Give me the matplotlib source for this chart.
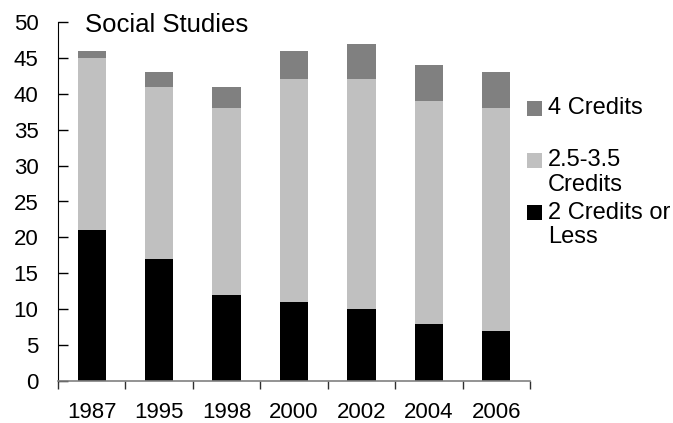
import numpy as np
import matplotlib
matplotlib.use("Agg")
import matplotlib.pyplot as plt
from matplotlib.patches import Rectangle

plt.rcParams['font.family'] = ['Liberation Sans', 'DejaVu Sans']

# Dati
anni = ['1987', '1995', '1998', '2000', '2002', '2004', '2006']
due_o_meno = [21, 17, 12, 11, 10, 8, 7]
da_25_a_35 = [24, 24, 26, 31, 32, 31, 31]
quattro = [1, 2, 3, 4, 5, 5, 5]

colori = {'quattro': '#808080', 'medio': '#C0C0C0', 'due': '#000000'}

x = np.arange(len(anni))
base2 = np.array(due_o_meno) + np.array(da_25_a_35)

W, H = 673, 423
fig = plt.figure(figsize=(W / 100, H / 100), dpi=100)
ax = fig.add_axes([58 / W, 1 - 381 / H, (530 - 58) / W, (381 - 22) / H])

ax.bar(x, due_o_meno, width=0.42, color=colori['due'])
ax.bar(x, da_25_a_35, width=0.42, bottom=due_o_meno, color=colori['medio'])
ax.bar(x, quattro, width=0.42, bottom=base2, color=colori['quattro'])

ax.set_xlim(-0.5, len(anni) - 0.5)
ax.set_ylim(0, 50)
ax.set_yticks(range(0, 51, 5))
ax.tick_params(axis='y', direction='in', length=7, width=1, labelsize=16, pad=14)

# etichette al centro, tacche tra le categorie
ax.set_xticks(x)
ax.set_xticklabels(anni)
ax.tick_params(axis='x', which='major', length=0, labelsize=16, pad=15)
ax.set_xticks(np.arange(-0.5, len(anni), 1), minor=True)
ax.tick_params(axis='x', which='minor', direction='out', length=6, width=1, color='#303030')

ax.spines['top'].set_visible(False)
ax.spines['right'].set_visible(False)
ax.spines['left'].set_color('black')
ax.spines['bottom'].set_color('#808080')
ax.spines['bottom'].set_linewidth(1.2)

ax.text(0.057, 0.991, 'Social Studies', transform=ax.transAxes, fontsize=18.5,
        va='center', ha='left')

# Legenda (disegnata a mano per avere la spaziatura dell'originale)
voci = [
    (colori['quattro'], ['4 Credits'], 101),
    (colori['medio'], ['2.5-3.5', 'Credits'], 153),
    (colori['due'], ['2 Credits or', 'Less'], 205),
]
for col, righe, top in voci:
    fig.patches.append(Rectangle((527 / W, 1 - (top + 15) / H), 15 / W, 15 / H,
                                 transform=fig.transFigure, facecolor=col,
                                 edgecolor='none'))
    for i, riga in enumerate(righe):
        fig.text(548 / W, 1 - (top + 7.5 + 24 * i) / H, riga, fontsize=17,
                 va='center', ha='left')

plt.savefig('out.png', dpi=100)
